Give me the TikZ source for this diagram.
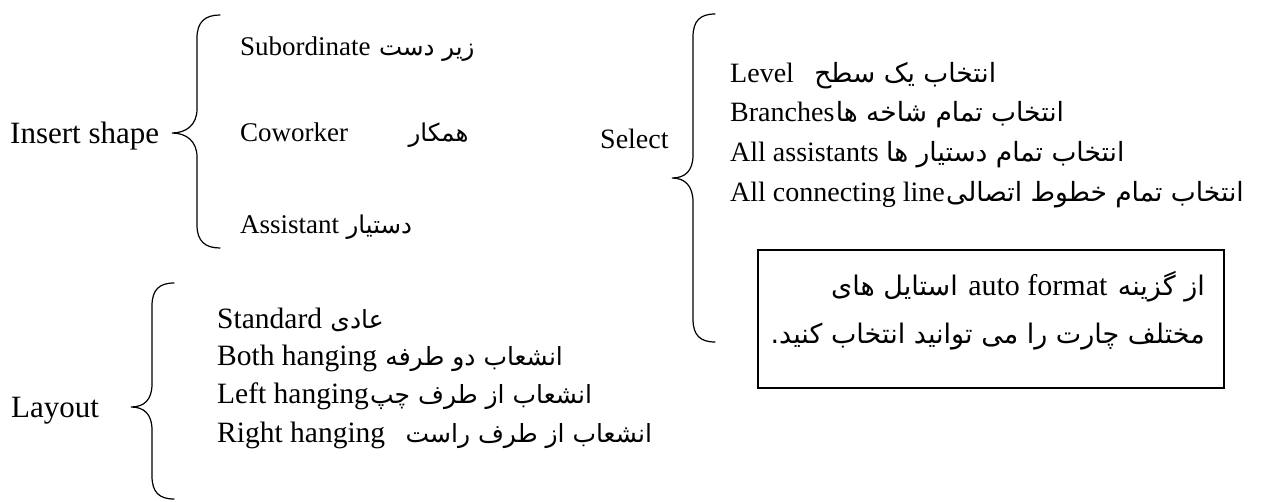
\documentclass[tikz,border=0pt]{standalone}
\usepackage{fontspec}
\setmainfont{Liberation Serif}
\newfontfamily\fa[Script=Arabic]{DejaVu Sans}
\TeXXeTstate=1
\begin{document}
\begin{tikzpicture}[x=1pt,y=-1pt,
  head/.style={inner sep=0pt, font=\fontsize{31}{34}\selectfont},
  lat/.style={inner sep=0pt, font=\fontsize{27}{30}\selectfont},
  latb/.style={inner sep=0pt, font=\fontsize{28}{32}\selectfont},
  latc/.style={inner sep=0pt, font=\fontsize{29.5}{34}\selectfont},
  latd/.style={inner sep=0pt, font=\fontsize{30}{34}\selectfont},
  per/.style={inner sep=0pt, font=\fa\fontsize{24.5}{28}\selectfont},
  perb/.style={inner sep=0pt, font=\fa\fontsize{26.5}{30}\selectfont},
  perc/.style={inner sep=0pt, font=\fa\fontsize{25}{30}\selectfont},
  perd/.style={inner sep=0pt, font=\fa\fontsize{27}{30}\selectfont},
  bracepath/.style={line width=1.2pt, line cap=round},
  notebox/.style={draw, line width=1.5pt}]
\useasboundingbox (0,0) rectangle (1265,501);
% ---------- Insert shape ----------
\node[head, anchor=base west] (ins) at (10,143) {Insert shape};
\draw[bracepath] (220,15) .. controls (205,15) and (197,22) .. (197,38) -- (197,109)
  .. controls (197,125) and (186,133) .. (172,133)
  .. controls (186,133) and (197,141) .. (197,157) -- (197,225)
  .. controls (197,241) and (205,248) .. (220,248);
\node[lat, anchor=base west] (sub) at (240,55) {Subordinate};
\node[per, anchor=base west] (subp) at ([xshift=8pt]sub.base east) {\beginR زیر دست\endR};
\node[lat, anchor=base west] (cow) at (240,141) {Coworker};
\node[per, anchor=base west] (cowp) at ([xshift=60pt]cow.base east) {\beginR همکار\endR};
\node[lat, anchor=base west] (ass) at (240,233) {Assistant};
\node[per, anchor=base west] (assp) at ([xshift=7pt]ass.base east) {\beginR دستیار\endR};
% ---------- Layout ----------
\node[head, anchor=base west] (lay) at (11,417) {Layout};
\draw[bracepath] (174,283) .. controls (159,283) and (152,290) .. (152,306) -- (152,384)
  .. controls (152,400) and (144,407) .. (131,407)
  .. controls (144,407) and (152,414) .. (152,430) -- (152,476)
  .. controls (152,492) and (159,499) .. (174,499);
\node[latc, anchor=base west] (std) at (217,328) {Standard};
\node[perc, anchor=base west] (stdp) at ([xshift=8pt]std.base east) {\beginR عادی\endR};
\node[latc, anchor=base west] (both) at (217,365) {Both hanging};
\node[perc, anchor=base west] (bothp) at ([xshift=8pt]both.base east) {\beginR انشعاب دو طرفه\endR};
\node[latc, anchor=base west] (left) at (217,403) {Left hanging};
\node[perc, anchor=base west] (leftp) at ([xshift=1pt]left.base east) {\beginR انشعاب از طرف چپ\endR};
\node[latc, anchor=base west] (right) at (217,442) {Right hanging};
\node[perc, anchor=base west] (rightp) at ([xshift=20pt]right.base east) {\beginR انشعاب از طرف راست\endR};
% ---------- Select ----------
\node[latb, anchor=base west] (sel) at (600,148) {Select};
\draw[bracepath] (715,14) .. controls (700,14) and (693,21) .. (693,37) -- (693,155)
  .. controls (693,171) and (685,178) .. (672,178)
  .. controls (685,178) and (693,186) .. (693,202) -- (693,319)
  .. controls (693,335) and (700,342) .. (715,342);
\node[latb, anchor=base west] (lev) at (730,82) {Level};
\node[perb, anchor=base west] (levp) at ([xshift=20pt]lev.base east) {\beginR انتخاب یک سطح\endR};
\node[latb, anchor=base west] (br) at (730,121) {Branches};
\node[perb, anchor=base west] (brp) at ([xshift=1pt]br.base east) {\beginR انتخاب تمام شاخه ها\endR};
\node[latb, anchor=base west] (alla) at (730,161) {All assistants};
\node[perb, anchor=base west] (allap) at ([xshift=7pt]alla.base east) {\beginR انتخاب تمام دستیار ها\endR};
\node[latb, anchor=base west] (allc) at (730,201) {All connecting line};
\node[perb, anchor=base west] (allcp) at ([xshift=1pt]allc.base east) {\beginR انتخاب تمام خطوط اتصالی\endR};
% ---------- note box ----------
\node[notebox, minimum width=466pt, minimum height=138pt, anchor=north west, inner sep=0pt] (box) at (757,249) {};
\node[perd, anchor=base east] (n1a) at (1205,295) {\beginR از گزینه\endR};
\node[latd, anchor=base east] (n1b) at ([xshift=-10pt]n1a.base west) {auto format};
\node[perd, anchor=base east] (n1c) at ([xshift=-10pt]n1b.base west) {\beginR استایل های\endR};
\node[perd, anchor=base east] (n2) at (1205,343) {\beginR مختلف چارت را می توانید انتخاب کنید.\endR};
\end{tikzpicture}
\end{document}
